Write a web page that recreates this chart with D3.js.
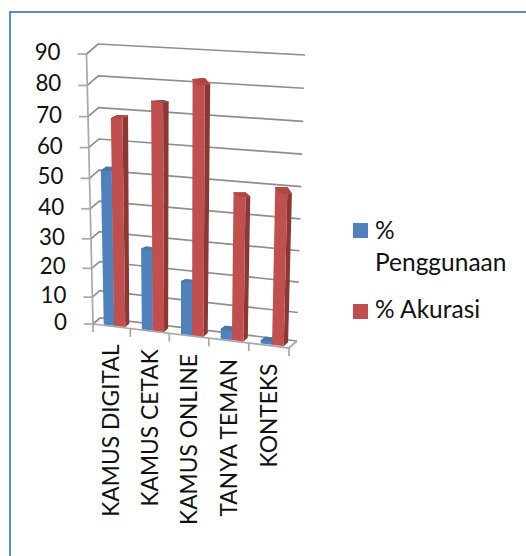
<!DOCTYPE html>
<html>
<head>
<meta charset="utf-8">
<script src="https://d3js.org/d3.v7.min.js"></script>
<style>
  html, body { margin: 0; background: #fff; }
  text { font-family: Lato, "Open Sans", sans-serif; fill: #111; }
</style>
</head>
<body>
<div id="chart"></div>
<script>
var categories = ["KAMUS DIGITAL", "KAMUS CETAK", "KAMUS ONLINE", "TANYA TEMAN", "KONTEKS"];
var penggunaan = [52, 27, 17.5, 3.3, 1];
var akurasi = [68.5, 73, 78.5, 45, 46.5];
var yTicks = [0, 10, 20, 30, 40, 50, 60, 70, 80, 90];

var svg = d3.select("#chart").append("svg")
  .attr("width", 526).attr("height", 556);

var soft = svg.append("defs").append("filter").attr("id", "soft");
soft.append("feGaussianBlur").attr("stdDeviation", 0.5);

// frame of the picture
svg.append("path")
  .attr("d", d3.line()([[10, 556], [10, 12], [526, 12]]))
  .attr("fill", "none").attr("stroke", "#5b8bc9").attr("stroke-width", 2);

var plot = svg.append("g").attr("filter", "url(#soft)");

// fake 3D: u = category position, v = value, d = depth into the chart
var xFront = d3.scalePow().exponent(1.03).domain([0, 5]).range([93, 289]);
var xBack = d3.scalePow().exponent(1.03).domain([0, 5]).range([100, 297]);
var floorFront = d3.scaleLinear().domain([0, 5]).range([324, 348]);
var floorBack = d3.scaleLinear().domain([0, 5]).range([318, 341]);
var hFront = d3.scaleLinear().domain([0, 5]).range([270, 325]);
var hBack = d3.scaleLinear().domain([0, 5]).range([274, 286]);
var vNorm = d3.scalePow().exponent(1.05).domain([0, 90]).range([0, 1]);
var lean = d3.scaleLinear().domain([0, 5]).range([-0.024, 0.024]);
var leanBack = d3.scaleLinear().domain([0, 5]).range([-0.007, 0.028]);

function project(u, v, d) {
  var h0 = hFront(u) * vNorm(v);
  var h1 = hBack(u) * vNorm(v);
  var x0 = xFront(u) + lean(u) * h0;
  var x1 = xBack(u) + leanBack(u) * h1;
  var y0 = floorFront(u) - h0;
  var y1 = floorBack(u) - h1;
  return [x0 + (x1 - x0) * d, y0 + (y1 - y0) * d];
}

var grey = "#8e8e8e";
var gridWidth = 1.7;
var line = d3.line();

// gridlines: side wall piece then back wall
plot.selectAll(".grid").data(yTicks).join("path")
  .attr("class", "grid")
  .attr("d", function(v) {
    return line([project(0, v, 0), project(0, v, 1), project(5, v, 1)]);
  })
  .attr("fill", "none").attr("stroke", grey).attr("stroke-width", gridWidth);

// y axis with ticks
plot.append("path")
  .attr("d", line([project(0, 0, 0), project(0, 90, 0)]))
  .attr("fill", "none").attr("stroke", "#a8a8a8").attr("stroke-width", gridWidth);
plot.selectAll(".ytick").data(yTicks).join("path")
  .attr("class", "ytick")
  .attr("d", function(v) {
    var p = project(0, v, 0);
    return line([[p[0] - 9, p[1]], p]);
  })
  .attr("stroke", "#a8a8a8").attr("stroke-width", gridWidth);

// floor front edge, right edge, category ticks
plot.append("path")
  .attr("d", line([project(0, 0, 0), project(5, 0, 0), project(5, 0, 1)]))
  .attr("fill", "none").attr("stroke", "#a8a8a8").attr("stroke-width", gridWidth);
plot.selectAll(".xtick").data(d3.range(6)).join("path")
  .attr("class", "xtick")
  .attr("d", function(u) {
    var p = project(u, 0, 0);
    return line([p, [p[0], p[1] + 8]]);
  })
  .attr("stroke", "#a8a8a8").attr("stroke-width", gridWidth);

// one bar: front face, side face, rounded cap
function drawBar(i, v, from, to, front, side) {
  var u0 = i + from, u1 = i + to, d0 = 0.15, d1 = 0.7;
  var g = plot.append("g");
  g.append("path")
    .attr("d", line([project(u1, 0, d0), project(u1, 0, d1), project(u1, v, d1), project(u1, v, d0)]) + "Z")
    .attr("fill", side);
  g.append("path")
    .attr("d", line([project(u0, 0, d0), project(u1, 0, d0), project(u1, v, d0), project(u0, v, d0)]) + "Z")
    .attr("fill", front);
  g.append("path")
    .attr("d", line([project(u0, v, d0), project(u1, v, d0), project(u1, v, d1), project(u0, v, d1)]) + "Z")
    .attr("fill", d3.color(front).darker(0.3))
    .attr("stroke", d3.color(front).darker(0.3)).attr("stroke-linejoin", "round");
}

categories.forEach(function(c, i) {
  drawBar(i, penggunaan[i], 0.27, 0.55, "#4f81bd", "#3a6291");
  drawBar(i, akurasi[i], 0.55, 0.84, "#c0504d", "#8b3734");
});

// y tick labels
svg.selectAll(".ylabel").data(yTicks).join("text")
  .attr("class", "ylabel")
  .attr("transform", function(v) {
    var p = project(0, v, 0);
    return "translate(" + (p[0] - 26) + "," + p[1] + ") scale(0.93,1)";
  })
  .attr("text-anchor", "end").attr("dominant-baseline", "middle")
  .attr("font-size", 24)
  .text(function(v) { return v; });

// rotated category labels
svg.selectAll(".xlabel").data(categories).join("text")
  .attr("class", "xlabel")
  .attr("transform", function(c, i) {
    var p = project(i + 0.5, 0, 0);
    return "translate(" + (p[0] + 2) + "," + (p[1] + 18) + ") rotate(-90) scale(0.95,1)";
  })
  .attr("text-anchor", "end").attr("dominant-baseline", "middle")
  .attr("font-size", 24)
  .text(function(c) { return c; });

// legend
var legendItems = [
  { color: "#4f81bd", y: 223, lines: ["%", "Penggunaan"], baselines: [239, 271] },
  { color: "#c0504d", y: 304, lines: ["% Akurasi"], baselines: [318] }
];
legendItems.forEach(function(item) {
  svg.append("rect")
    .attr("x", 353).attr("y", item.y).attr("width", 15).attr("height", 15)
    .attr("fill", item.color);
  item.lines.forEach(function(t, k) {
    svg.append("text")
      .attr("x", 375).attr("y", item.baselines[k])
      .attr("font-size", 24.5)
      .text(t);
  });
});
</script>
</body>
</html>
